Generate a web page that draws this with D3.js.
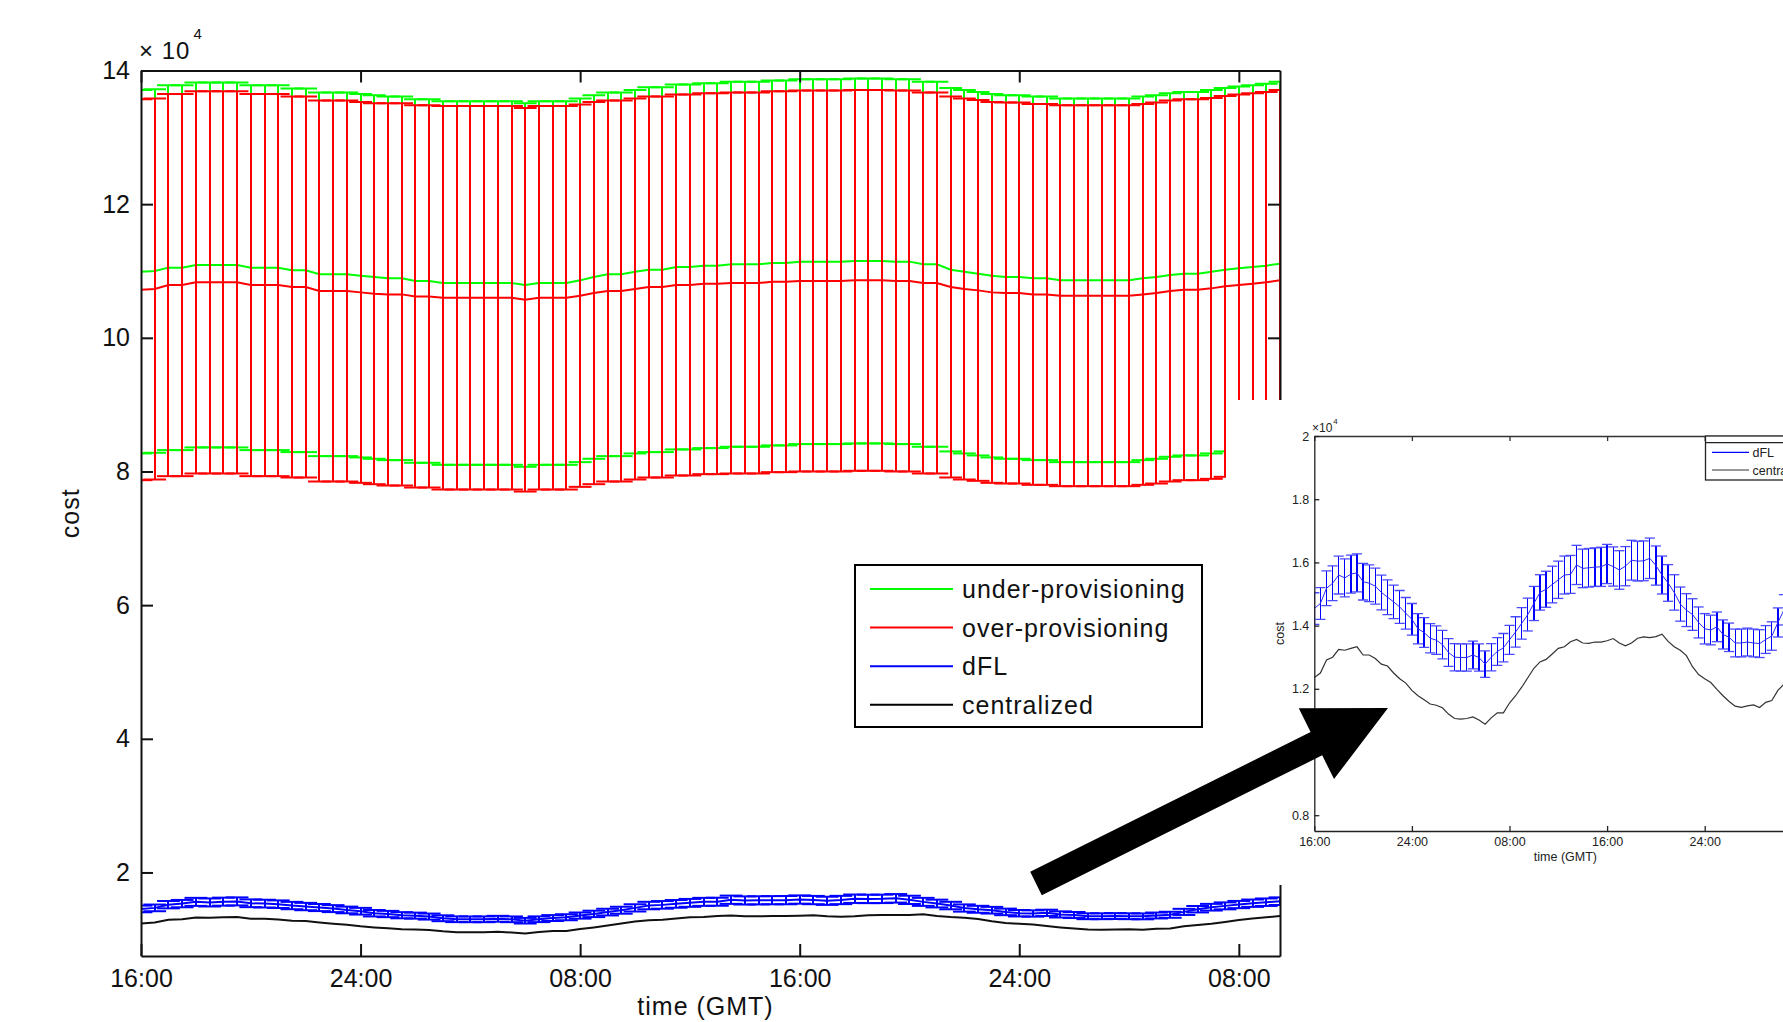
<!DOCTYPE html>
<html>
<head>
<meta charset="utf-8">
<script src="https://d3js.org/d3.v7.min.js"></script>
<style>
  body { margin: 0; background: #fff; }
  svg { display: block; }
</style>
</head>
<body>
<div id="chart"></div>
<script>
// time in hours after 16:00 GMT, one sample every half hour
var hours = [0,0.5,1,1.5,2,2.5,3,3.5,4,4.5,5,5.5,6,6.5,7,7.5,8,8.5,9,9.5,
  10,10.5,11,11.5,12,12.5,13,13.5,14,14.5,15,15.5,16,16.5,17,17.5,18,18.5,19,19.5,
  20,20.5,21,21.5,22,22.5,23,23.5,24,24.5,25,25.5,26,26.5,27,27.5,28,28.5,29,29.5,
  30,30.5,31,31.5,32,32.5,33,33.5,34,34.5,35,35.5,36,36.5,37,37.5,38,38.5,39,39.5,
  40,40.5,41,41.5];

// cost values, in units of 10^4
var underMean = [10.99,11.00,11.05,11.05,11.09,11.09,11.09,11.09,11.05,11.05,
  11.05,11.01,11.01,10.95,10.95,10.95,10.93,10.91,10.89,10.89,
  10.85,10.85,10.82,10.82,10.82,10.82,10.82,10.82,10.79,10.82,
  10.82,10.82,10.86,10.91,10.95,10.95,10.99,11.02,11.02,11.06,
  11.06,11.08,11.08,11.10,11.10,11.10,11.12,11.12,11.14,11.14,
  11.14,11.14,11.15,11.15,11.15,11.14,11.14,11.10,11.10,11.02,
  10.99,10.96,10.93,10.91,10.91,10.89,10.89,10.86,10.86,10.86,
  10.86,10.86,10.86,10.89,10.91,10.94,10.96,10.96,10.99,11.02,
  11.04,11.06,11.08,11.11];
var underErr = [2.72,2.72,2.73,2.73,2.73,2.73,2.73,2.73,2.73,2.73,
  2.73,2.72,2.72,2.72,2.72,2.72,2.72,2.72,2.72,2.72,
  2.72,2.72,2.72,2.72,2.72,2.72,2.72,2.72,2.72,2.72,
  2.72,2.72,2.72,2.72,2.72,2.72,2.72,2.73,2.73,2.73,
  2.73,2.73,2.73,2.73,2.73,2.73,2.73,2.73,2.73,2.73,
  2.73,2.73,2.73,2.73,2.73,2.73,2.73,2.73,2.73,2.72,
  2.72,2.72,2.72,2.72,2.72,2.72,2.72,2.72,2.72,2.72,
  2.72,2.72,2.72,2.72,2.72,2.72,2.72,2.72,2.72,2.72,
  2.72,2.72,2.72,2.72];
var overMean = [10.72,10.73,10.79,10.79,10.83,10.83,10.83,10.83,10.79,10.79,
  10.79,10.76,10.76,10.70,10.70,10.70,10.68,10.66,10.65,10.65,
  10.62,10.62,10.60,10.60,10.60,10.60,10.60,10.60,10.57,10.60,
  10.60,10.60,10.63,10.67,10.70,10.70,10.73,10.76,10.76,10.79,
  10.79,10.81,10.81,10.82,10.82,10.82,10.84,10.84,10.85,10.85,
  10.85,10.85,10.86,10.86,10.86,10.85,10.85,10.82,10.82,10.76,
  10.73,10.71,10.68,10.67,10.67,10.65,10.65,10.63,10.63,10.63,
  10.63,10.63,10.63,10.65,10.67,10.70,10.72,10.72,10.74,10.77,
  10.79,10.81,10.83,10.86];
var overErr = [2.85,2.85,2.86,2.86,2.86,2.86,2.86,2.86,2.86,2.86,
  2.86,2.85,2.85,2.85,2.85,2.85,2.85,2.85,2.86,2.86,
  2.86,2.86,2.87,2.87,2.87,2.87,2.87,2.87,2.87,2.87,
  2.87,2.87,2.86,2.86,2.85,2.85,2.85,2.85,2.85,2.85,
  2.85,2.85,2.85,2.85,2.85,2.85,2.85,2.85,2.85,2.85,
  2.85,2.85,2.85,2.85,2.85,2.85,2.85,2.85,2.85,2.85,
  2.85,2.85,2.85,2.85,2.85,2.85,2.85,2.85,2.85,2.85,
  2.85,2.85,2.85,2.85,2.85,2.85,2.85,2.85,2.85,2.85,
  2.85,2.85,2.85,2.85];
var dflMean = [1.454,1.470,1.518,1.534,1.560,1.551,1.563,1.567,1.539,1.534,
  1.525,1.505,1.490,1.475,1.459,1.439,1.420,1.390,1.378,1.360,
  1.354,1.340,1.315,1.300,1.299,1.299,1.307,1.299,1.278,1.300,
  1.318,1.330,1.355,1.380,1.407,1.435,1.470,1.505,1.515,1.530,
  1.545,1.560,1.562,1.592,1.581,1.583,1.585,1.586,1.595,1.587,
  1.576,1.588,1.607,1.604,1.605,1.613,1.590,1.560,1.535,1.505,
  1.468,1.449,1.435,1.410,1.390,1.386,1.396,1.372,1.363,1.345,
  1.345,1.348,1.345,1.343,1.356,1.367,1.410,1.450,1.480,1.500,
  1.520,1.540,1.555,1.570];
var dflErr = [0.050,0.050,0.055,0.055,0.060,0.060,0.060,0.060,0.058,0.058,
  0.057,0.055,0.055,0.053,0.052,0.050,0.050,0.048,0.047,0.046,
  0.045,0.045,0.044,0.043,0.043,0.043,0.044,0.043,0.042,0.043,
  0.044,0.045,0.046,0.048,0.050,0.052,0.054,0.056,0.057,0.058,
  0.059,0.060,0.060,0.062,0.061,0.061,0.061,0.062,0.062,0.062,
  0.061,0.062,0.063,0.063,0.063,0.064,0.062,0.060,0.058,0.056,
  0.054,0.052,0.050,0.049,0.048,0.047,0.047,0.046,0.045,0.044,
  0.044,0.044,0.044,0.044,0.044,0.045,0.046,0.048,0.050,0.052,
  0.054,0.055,0.056,0.057];
var central = [1.236,1.250,1.291,1.300,1.325,1.322,1.328,1.333,1.307,1.307,
  1.296,1.278,1.272,1.250,1.232,1.218,1.195,1.178,1.165,1.152,
  1.148,1.140,1.120,1.106,1.104,1.106,1.111,1.101,1.088,1.108,
  1.124,1.124,1.155,1.178,1.205,1.235,1.265,1.285,1.293,1.310,
  1.328,1.333,1.349,1.356,1.345,1.344,1.348,1.348,1.352,1.359,
  1.345,1.336,1.345,1.360,1.364,1.362,1.365,1.373,1.350,1.333,
  1.322,1.305,1.270,1.245,1.232,1.220,1.198,1.178,1.160,1.145,
  1.141,1.146,1.149,1.141,1.157,1.163,1.195,1.215,1.232,1.260,
  1.290,1.310,1.330,1.349];

var xTickValues = [0, 8, 16, 24, 32, 40];
var xTickLabels = ["16:00", "24:00", "08:00", "16:00", "24:00", "08:00"];
var xTickValuesInset = [0, 8, 16, 24, 32];
var yTicksMain = [2, 4, 6, 8, 10, 12, 14];
var yTicksInset = [0.8, 1, 1.2, 1.4, 1.6, 1.8, 2];
var legendMain = ["under-provisioning", "over-provisioning", "dFL", "centralized"];
var legendColors = ["#00ff00", "#ff0000", "#0000ff", "#000000"];
var legendInset = ["dFL", "centralized"];

var FONT = "'Liberation Sans', Arial, Helvetica, sans-serif";
var W = 1783, H = 1022;
var tee = 0.415; // half width of the error bar caps, in hours

var svg = d3.select("#chart").append("svg")
    .attr("width", W)
    .attr("height", H)
    .style("font-family", FONT);

var defs = svg.append("defs");

// draws one matlab style errorbar series
function errorbars(g, xs, ys, mean, err, color, w, capColor, lineColor, lineW) {
  var s = g.append("g").attr("fill", "none");
  s.append("g").attr("stroke", color).attr("stroke-width", w)
    .attr("shape-rendering", "crispEdges")
    .selectAll("line").data(hours).join("line")
      .attr("x1", function(d) { return xs(d); })
      .attr("x2", function(d) { return xs(d); })
      .attr("y1", function(d, i) { return ys(mean[i] - err[i]); })
      .attr("y2", function(d, i) { return ys(mean[i] + err[i]); });
  var caps = s.append("g").attr("stroke", capColor || color).attr("stroke-width", w);
  [-1, 1].forEach(function(sign) {
    caps.append("g").selectAll("line").data(hours).join("line")
      .attr("x1", function(d) { return xs(d - tee); })
      .attr("x2", function(d) { return xs(d + tee); })
      .attr("y1", function(d, i) { return ys(mean[i] + sign * err[i]); })
      .attr("y2", function(d, i) { return ys(mean[i] + sign * err[i]); });
  });
  s.append("path")
    .datum(mean)
    .attr("stroke", lineColor || color)
    .attr("stroke-width", lineW || w)
    .attr("d", d3.line().x(function(d, i) { return xs(hours[i]); }).y(function(d) { return ys(d); }));
}

// ---------------- main plot ----------------
var x = d3.scaleLinear().domain([0, 41.5]).range([141, 1280]);
var y = d3.scaleLinear().domain([0.75, 14]).range([956, 70.5]);

defs.append("clipPath").attr("id", "clipMain").append("rect")
  .attr("x", x(0)).attr("y", y(14))
  .attr("width", x(41.5) - x(0)).attr("height", y(0.75) - y(14));

var plot = svg.append("g").attr("clip-path", "url(#clipMain)");
errorbars(plot, x, y, underMean, underErr, "#00ff00", 2);
errorbars(plot, x, y, overMean, overErr, "#ff0000", 2);
errorbars(plot, x, y, dflMean, dflErr, "#0000ff", 2);
plot.append("path")
  .datum(central)
  .attr("fill", "none")
  .attr("stroke", "#111")
  .attr("stroke-width", 2)
  .attr("d", d3.line().x(function(d, i) { return x(hours[i]); }).y(function(d) { return y(d); }));

function styleAxis(g, size, w, color) {
  g.attr("font-family", FONT).attr("font-size", size).attr("color", color);
  g.selectAll(".domain, .tick line").attr("stroke-width", w);
}

svg.append("g").attr("transform", "translate(0," + y(0.75) + ")")
  .call(d3.axisBottom(x).tickValues(xTickValues)
    .tickFormat(function(d, i) { return xTickLabels[i]; })
    .tickSizeInner(-12).tickSizeOuter(0).tickPadding(13))
  .call(styleAxis, 25, 2, "#111");
svg.append("g").attr("transform", "translate(0," + y(14) + ")")
  .call(d3.axisTop(x).tickValues(xTickValues).tickFormat("")
    .tickSizeInner(-12).tickSizeOuter(0))
  .call(styleAxis, 25, 2, "#111");
svg.append("g").attr("transform", "translate(" + x(0) + ",0)")
  .call(d3.axisLeft(y).tickValues(yTicksMain)
    .tickSizeInner(-12).tickSizeOuter(0).tickPadding(11))
  .call(styleAxis, 25, 2, "#111");
svg.append("g").attr("transform", "translate(" + x(41.5) + ",0)")
  .call(d3.axisRight(y).tickValues(yTicksMain).tickFormat("")
    .tickSizeInner(-12).tickSizeOuter(0))
  .call(styleAxis, 25, 2, "#111");

// exponent label
var expo = svg.append("text").attr("x", 139).attr("y", 59)
  .attr("font-size", 24).attr("fill", "#111").style("letter-spacing", "1px");
expo.append("tspan").text("\u00d7 10");
expo.append("tspan").attr("font-size", 15).attr("dy", -20).attr("dx", 3).text("4");

svg.append("text")
  .attr("transform", "translate(79," + ((y(14) + y(0.75)) / 2) + ") rotate(-90)")
  .attr("text-anchor", "middle")
  .attr("font-size", 25).attr("fill", "#111")
  .style("letter-spacing", "1px")
  .text("cost");

svg.append("text")
  .attr("x", (x(0) + x(41.5)) / 2 - 5).attr("y", 1015)
  .attr("text-anchor", "middle")
  .attr("font-size", 25).attr("fill", "#111")
  .style("letter-spacing", "1px")
  .text("time (GMT)");

// legend
var leg = svg.append("g").attr("transform", "translate(855,565)");
leg.append("rect").attr("width", 347).attr("height", 162)
  .attr("fill", "#fff").attr("stroke", "#000").attr("stroke-width", 2);
var legItem = leg.selectAll("g.item").data(legendMain).join("g")
  .attr("class", "item")
  .attr("transform", function(d, i) { return "translate(0," + (24 + i * 38.6) + ")"; });
legItem.append("line").attr("x1", 15).attr("x2", 98)
  .attr("stroke", function(d, i) { return legendColors[i]; }).attr("stroke-width", 2);
legItem.append("text").attr("x", 107).attr("y", 9)
  .attr("font-size", 25).attr("fill", "#111")
  .style("letter-spacing", "1px")
  .text(function(d) { return d; });

// ---------------- inset (zoom on the low curves) ----------------
svg.append("rect").attr("x", 1226).attr("y", 400)
  .attr("width", W - 1226).attr("height", 485).attr("fill", "#fff");

var xi = d3.scaleLinear().domain([0, 41.5]).range([1314.3, 1820.6]);
var yi = d3.scaleLinear().domain([0.75, 2]).range([831, 436]);

defs.append("clipPath").attr("id", "clipInset").append("rect")
  .attr("x", xi(0)).attr("y", yi(2))
  .attr("width", xi(41.5) - xi(0)).attr("height", yi(0.75) - yi(2));

var inset = svg.append("g").attr("clip-path", "url(#clipInset)");
errorbars(inset, xi, yi, dflMean, dflErr, "#0000ff", 1.3, "#4a4aff", "#2a2aff", 1);
inset.append("path")
  .datum(central)
  .attr("fill", "none")
  .attr("stroke", "#333")
  .attr("stroke-width", 1.2)
  .attr("d", d3.line().x(function(d, i) { return xi(hours[i]); }).y(function(d) { return yi(d); }));

svg.append("g").attr("transform", "translate(0," + yi(0.75) + ")")
  .call(d3.axisBottom(xi).tickValues(xTickValuesInset)
    .tickFormat(function(d, i) { return xTickLabels[i]; })
    .tickSizeInner(-5).tickSizeOuter(0).tickPadding(6))
  .call(styleAxis, 12.5, 1.3, "#222");
svg.append("g").attr("transform", "translate(0," + yi(2) + ")")
  .call(d3.axisTop(xi).tickValues(xTickValuesInset).tickFormat("")
    .tickSizeInner(-5).tickSizeOuter(0))
  .call(styleAxis, 12.5, 1.3, "#333");
svg.append("g").attr("transform", "translate(" + xi(0) + ",0)")
  .call(d3.axisLeft(yi).tickValues(yTicksInset)
    .tickFormat(function(d) { return String(d); })
    .tickSizeInner(-5).tickSizeOuter(0).tickPadding(5))
  .call(styleAxis, 12.5, 1.3, "#222");

var expoI = svg.append("text").attr("x", 1312).attr("y", 432)
  .attr("font-size", 12).attr("fill", "#222");
expoI.append("tspan").text("\u00d710");
expoI.append("tspan").attr("font-size", 8).attr("dy", -8).attr("dx", 1).text("4");

svg.append("text")
  .attr("transform", "translate(1284," + ((yi(2) + yi(0.75)) / 2) + ") rotate(-90)")
  .attr("text-anchor", "middle")
  .attr("font-size", 12.5).attr("fill", "#222")
  .text("cost");

svg.append("text")
  .attr("x", (xi(0) + xi(41.5)) / 2 - 2).attr("y", 861)
  .attr("text-anchor", "middle")
  .attr("font-size", 12.5).attr("fill", "#222")
  .text("time (GMT)");

// inset legend, cut by the page edge as in the pasted figure
var legI = svg.append("g").attr("transform", "translate(1705.5,436)");
legI.append("rect").attr("width", 120).attr("height", 44)
  .attr("fill", "#fff").attr("stroke", "#222").attr("stroke-width", 1.3);
legI.append("line").attr("x1", 0).attr("x2", 120).attr("y1", 6.7).attr("y2", 6.7)
  .attr("stroke", "#222").attr("stroke-width", 1.3);
var legIItem = legI.selectAll("g.item").data(legendInset).join("g")
  .attr("class", "item")
  .attr("transform", function(d, i) { return "translate(0," + (16.3 + i * 17.7) + ")"; });
legIItem.append("line").attr("x1", 6.5).attr("x2", 43.5)
  .attr("stroke", function(d, i) { return i === 0 ? "#0000ff" : "#333"; })
  .attr("stroke-width", 1.2);
legIItem.append("text").attr("x", 47).attr("y", 4.5)
  .attr("font-size", 12.5).attr("fill", "#222")
  .text(function(d) { return d; });

// ---------------- arrow pointing at the inset ----------------
(function() {
  var tail = [1036, 883.5], tip = [1388, 708];
  var dx = tip[0] - tail[0], dy = tip[1] - tail[1];
  var len = Math.sqrt(dx * dx + dy * dy);
  var u = [dx / len, dy / len], n = [-u[1], u[0]];
  var headLen = 80, headHalf = 39.5, shaftHalf = 13;
  var base = [tip[0] - headLen * u[0], tip[1] - headLen * u[1]];
  function p(c, k) { return [c[0] + k * n[0], c[1] + k * n[1]]; }
  var pts = [p(tail, shaftHalf), p(base, shaftHalf), p(base, headHalf), tip,
             p(base, -headHalf), p(base, -shaftHalf), p(tail, -shaftHalf)];
  svg.append("polygon")
    .attr("points", pts.map(function(q) { return q[0] + "," + q[1]; }).join(" "))
    .attr("fill", "#000");
})();
</script>
</body>
</html>
